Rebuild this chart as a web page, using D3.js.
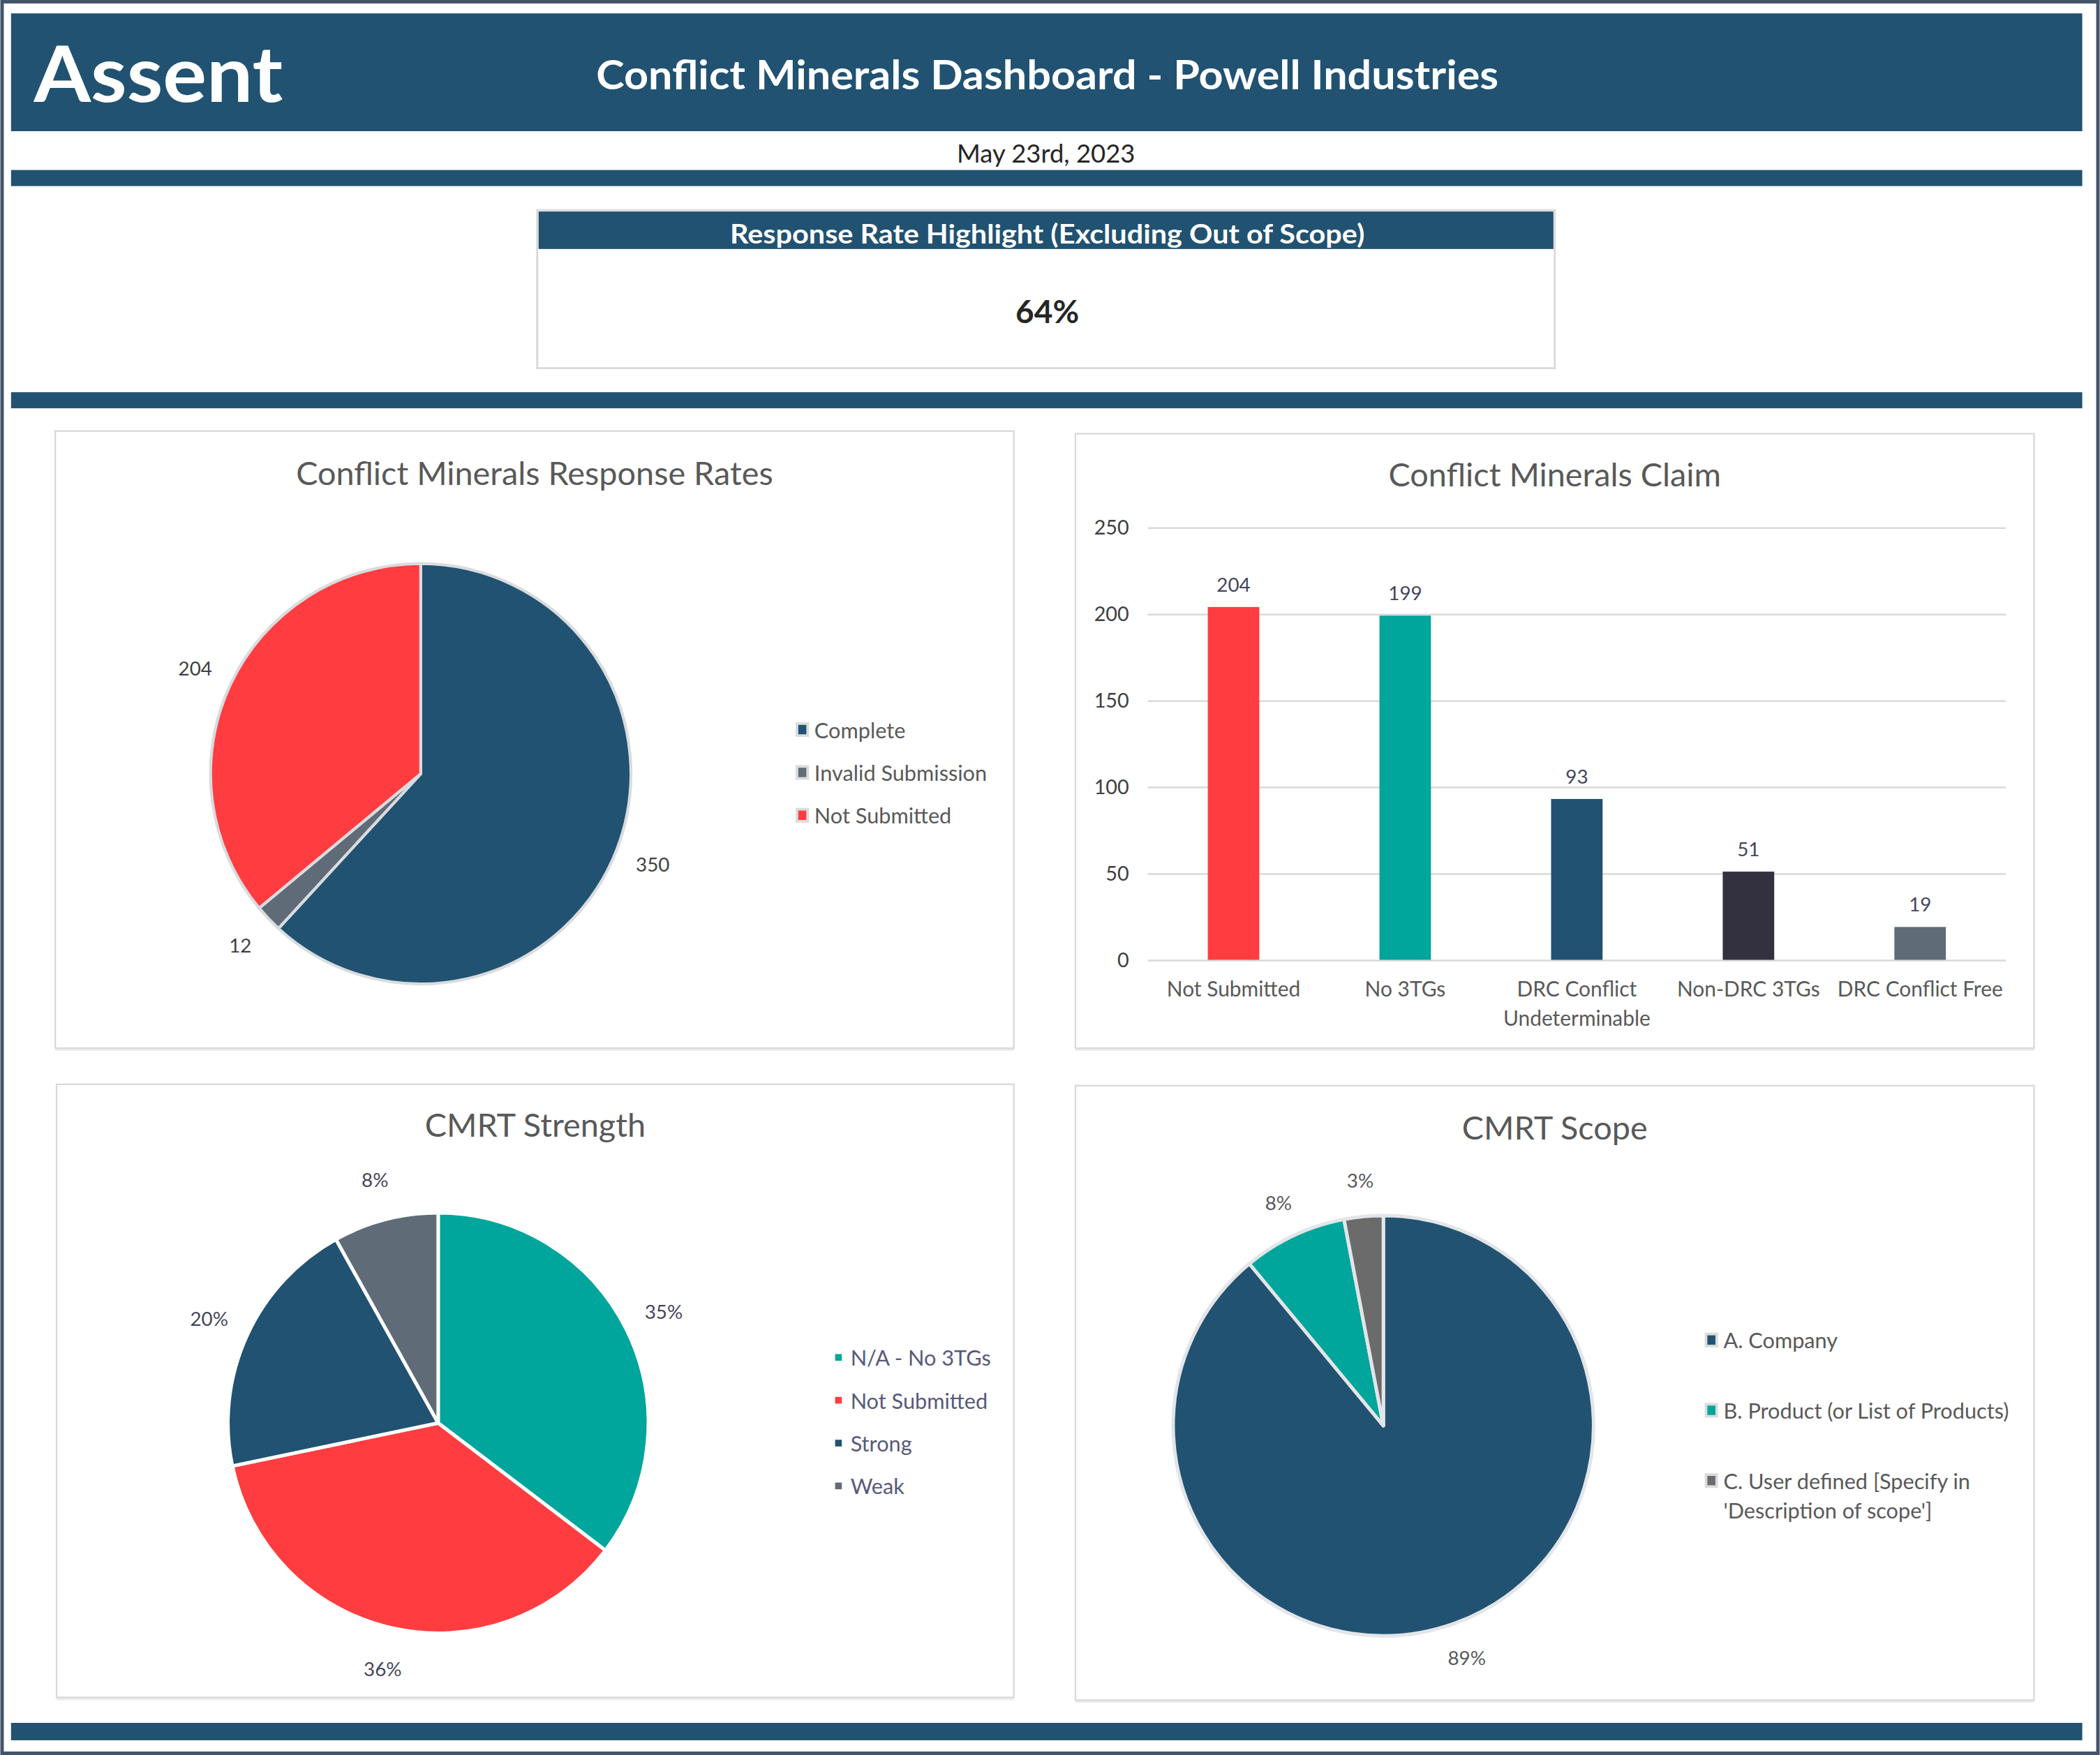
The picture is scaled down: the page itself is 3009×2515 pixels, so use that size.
<!DOCTYPE html>
<html lang="en">
<head>
<meta charset="UTF-8">
<title>Conflict Minerals Dashboard - Powell Industries</title>
<script src="https://cdn.jsdelivr.net/npm/d3@7"></script>
<style>
    body { margin: 0; background: #fff; }
    svg { display: block; font-family: Lato, "Open Sans", sans-serif; }
</style>
</head>
<body>
<svg id="dash"></svg>
<script>
// ---- data ----
const responseLabels = ["Complete", "Invalid Submission", "Not Submitted"];
const responseValues = [350, 12, 204];

const claimCategories = ["Not Submitted", "No 3TGs", "DRC Conflict Undeterminable", "Non-DRC 3TGs", "DRC Conflict Free"];
const claimValues = [204, 199, 93, 51, 19];
const claimTicks = [0, 50, 100, 150, 200, 250];

const strengthLabels = ["N/A - No 3TGs", "Not Submitted", "Strong", "Weak"];
const strengthValues = [35, 36, 20, 8];   // percent

const scopeLabels = ["A. Company", "B. Product (or List of Products)", "C. User defined [Specify in 'Description of scope']"];
const scopeValues = [89, 8, 3];           // percent

const responseRate = "64%";

// ---- colours ----
const navy = "#215271", red = "#ff3d41", teal = "#00a59b", slate = "#5f6b77",
      ink = "#33303f", scopeGray = "#6b6b6b", frame = "#44546a";

// work in a 1568 x 1311 coordinate space, scaled to the window
const W = 1568, H = 1311;
const svg = d3.select("#dash")
    .attr("width", 3009).attr("height", 2515)
    .attr("viewBox", `0 0 ${W} ${H}`);

// outer frame
svg.append("rect").attr("width", W).attr("height", H).attr("fill", frame);
svg.append("rect").attr("x", 2.6).attr("y", 2.6).attr("width", W - 5.2).attr("height", H - 5.2).attr("fill", "#fff");

// header band
svg.append("rect").attr("x", 8).attr("y", 10).attr("width", 1547).attr("height", 88).attr("fill", navy);
svg.append("text").attr("x", 25).attr("y", 76)
    .attr("fill", "#fff").attr("font-weight", 700).attr("font-size", 58)
    .attr("textLength", 186).attr("lengthAdjust", "spacingAndGlyphs")
    .text("Assent");
svg.append("text").attr("x", 782).attr("y", 55).attr("dominant-baseline", "central")
    .attr("text-anchor", "middle").attr("fill", "#fff").attr("font-weight", 700).attr("font-size", 30)
    .attr("textLength", 674).attr("lengthAdjust", "spacingAndGlyphs")
    .text("Conflict Minerals Dashboard - Powell Industries");

svg.append("text").attr("x", 781).attr("y", 114).attr("dominant-baseline", "central")
    .attr("text-anchor", "middle").attr("fill", "#262626").attr("font-size", 19)
    .text("May 23rd, 2023");

// divider bars
[[127, 12], [293, 12], [1287, 13]].forEach(([y, h]) => {
    svg.append("rect").attr("x", 8).attr("y", y).attr("width", 1547).attr("height", h).attr("fill", navy);
});

// response rate highlight box
svg.append("rect").attr("x", 401).attr("y", 157).attr("width", 760).attr("height", 118)
    .attr("fill", "#fff").attr("stroke", "#d9d9d9").attr("stroke-width", 1.5);
svg.append("rect").attr("x", 402).attr("y", 158).attr("width", 758).attr("height", 28).attr("fill", navy);
svg.append("text").attr("x", 782).attr("y", 174).attr("dominant-baseline", "central")
    .attr("text-anchor", "middle").attr("fill", "#fff").attr("font-weight", 700).attr("font-size", 20)
    .attr("textLength", 474).attr("lengthAdjust", "spacingAndGlyphs")
    .text("Response Rate Highlight (Excluding Out of Scope)");
svg.append("text").attr("x", 782).attr("y", 232).attr("dominant-baseline", "central")
    .attr("text-anchor", "middle").attr("fill", "#262626").attr("font-weight", 700).attr("font-size", 24)
    .text(responseRate);

// ---- helpers ----
function panel(x, y, w, h, title, titleY) {
    svg.append("rect").attr("x", x).attr("y", y + 2).attr("width", w).attr("height", h)
        .attr("fill", "#ececf0");
    svg.append("rect").attr("x", x).attr("y", y).attr("width", w).attr("height", h)
        .attr("fill", "#fff").attr("stroke", "#d9d9d9").attr("stroke-width", 1.2);
    svg.append("text").attr("x", x + w / 2).attr("y", titleY).attr("dominant-baseline", "central")
        .attr("text-anchor", "middle").attr("fill", "#595959").attr("font-size", 24.4)
        .text(title);
}

function wrapLines(textSel, str, maxW) {
    const words = str.split(" ");
    const lines = [];
    let cur = "";
    words.forEach(w => {
        const test = cur ? cur + " " + w : w;
        textSel.text(test);
        if (cur && textSel.node().getComputedTextLength() > maxW) {
            lines.push(cur);
            cur = w;
        } else {
            cur = test;
        }
    });
    lines.push(cur);
    textSel.text(null);
    return lines;
}

function drawPie(cx, cy, values, colors, strokeColor, strokeW, labelR, fmt, labelColor) {
    const g = svg.append("g").attr("transform", `translate(${cx},${cy})`);
    const pie = d3.pie().sort(null).value(d => d);
    const arc = d3.arc().innerRadius(0).outerRadius(157);
    const labelArc = d3.arc().innerRadius(labelR).outerRadius(labelR);
    const arcs = pie(values);
    g.selectAll("path").data(arcs).join("path")
        .attr("d", arc)
        .attr("fill", (d, i) => colors[i])
        .attr("stroke", strokeColor).attr("stroke-width", strokeW)
        .attr("stroke-linejoin", "round");
    g.selectAll("text").data(arcs).join("text")
        .attr("transform", d => `translate(${labelArc.centroid(d)})`)
        .attr("text-anchor", "middle").attr("dominant-baseline", "central")
        .attr("font-size", 14.5).attr("fill", labelColor)
        .text(d => fmt(d.data));
}

function drawLegend(x, y0, dy, labels, colors, boxed, textColor, maxW) {
    let y = y0;
    labels.forEach((lab, i) => {
        if (boxed) {
            svg.append("rect").attr("x", x - 5).attr("y", y - 5.5).attr("width", 10).attr("height", 11)
                .attr("fill", "#dcdcdc");
            svg.append("rect").attr("x", x - 3).attr("y", y - 3.5).attr("width", 6).attr("height", 7)
                .attr("fill", colors[i]);
        } else {
            svg.append("rect").attr("x", x - 2.5).attr("y", y - 2.5).attr("width", 5).attr("height", 5)
                .attr("fill", colors[i]);
        }
        const t = svg.append("text").attr("x", x + 9).attr("y", y)
            .attr("dominant-baseline", "central").attr("font-size", 16).attr("fill", textColor);
        const lines = maxW ? wrapLines(t, lab, maxW) : [lab];
        lines.forEach((ln, k) => {
            t.append("tspan").attr("x", x + 9).attr("dy", k === 0 ? 0 : 22).text(ln);
        });
        y += dy;
    });
}

// ---- panel 1: response rates ----
panel(41, 322, 716, 461, "Conflict Minerals Response Rates", 353);
drawPie(314, 578, responseValues, [navy, slate, red], "#d9dcdf", 2.2, 186, d => d, "#404040");
drawLegend(599, 545, 32, responseLabels, [navy, slate, red], true, "#595959");

// ---- panel 2: claim bar chart ----
panel(803, 324, 716, 459, "Conflict Minerals Claim", 354);
const x = d3.scaleBand().domain(claimCategories).range([857, 1498]).paddingInner(0.7).paddingOuter(0.35);
const y = d3.scaleLinear().domain([0, 250]).range([717, 394]);
const claimColors = [red, teal, navy, ink, slate];

const yAxis = svg.append("g").attr("transform", "translate(857,0)")
    .call(d3.axisLeft(y).tickValues(claimTicks).tickSize(-641).tickPadding(14));
yAxis.select(".domain").remove();
yAxis.selectAll(".tick line").attr("stroke", "#d9d9d9").attr("stroke-width", 1.3);
yAxis.selectAll(".tick text").attr("font-size", 15).attr("fill", "#404040")
    .attr("font-family", "Lato, 'Open Sans', sans-serif");

svg.selectAll(".bar").data(claimValues).join("rect").attr("class", "bar")
    .attr("x", (d, i) => x(claimCategories[i]))
    .attr("y", d => y(d))
    .attr("width", x.bandwidth())
    .attr("height", d => y(0) - y(d))
    .attr("fill", (d, i) => claimColors[i]);

svg.selectAll(".barval").data(claimValues).join("text").attr("class", "barval")
    .attr("x", (d, i) => x(claimCategories[i]) + x.bandwidth() / 2)
    .attr("y", d => y(d) - 17)
    .attr("text-anchor", "middle").attr("dominant-baseline", "central")
    .attr("font-size", 14.5).attr("fill", "#44465a")
    .text(d => d);

claimCategories.forEach(c => {
    const t = svg.append("text").attr("y", 738).attr("text-anchor", "middle")
        .attr("dominant-baseline", "central").attr("font-size", 15.6).attr("fill", "#595959");
    const cx = x(c) + x.bandwidth() / 2;
    wrapLines(t, c, 130).forEach((ln, k) => {
        t.append("tspan").attr("x", cx).attr("dy", k === 0 ? 0 : 22).text(ln);
    });
});

// ---- panel 3: CMRT strength ----
panel(42, 810, 715, 458, "CMRT Strength", 840);
drawPie(327, 1063, strengthValues, [teal, red, navy, slate], "#fff", 2.6, 188, d => d + "%", "#44465a");
drawLegend(626, 1014, 32, strengthLabels, [teal, red, navy, slate], false, "#58597a");

// ---- panel 4: CMRT scope ----
panel(803, 811, 716, 459, "CMRT Scope", 842);
drawPie(1033, 1065, scopeValues, [navy, teal, scopeGray], "#e3e5e8", 2.6, 184, d => d + "%", "#595959");
drawLegend(1278, 1001, 52.5, scopeLabels, [navy, teal, scopeGray], true, "#595959", 230);
</script>
</body>
</html>
